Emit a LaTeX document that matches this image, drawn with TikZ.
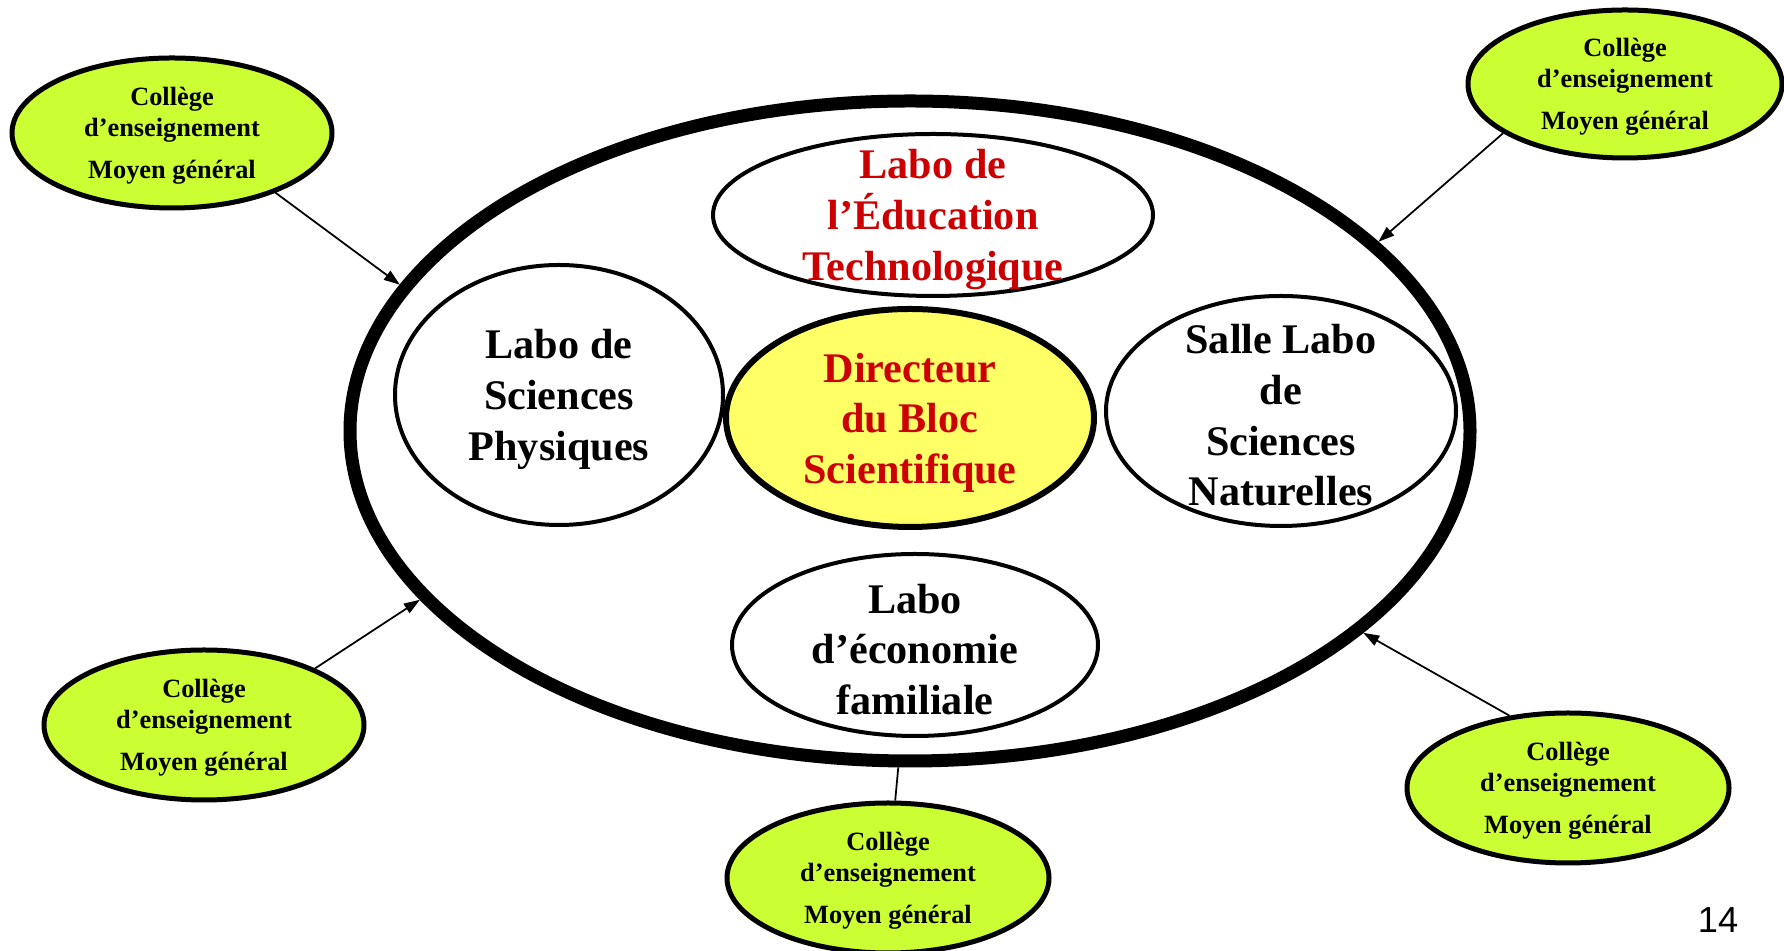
\documentclass[tikz,border=0pt]{standalone}
\usepackage{fontspec}
\setmainfont{Liberation Serif}
\newfontfamily\pagefont{Liberation Sans}
\usetikzlibrary{shapes.geometric,arrows.meta}
\definecolor{labred}{HTML}{CC0000}
\definecolor{dirfill}{HTML}{FFFF66}
\definecolor{colfill}{HTML}{CCFF33}
\tikzset{
  bigtext/.style={font=\bfseries\fontsize{12}{14.4}\selectfont, align=center, yshift=-0.45mm},
  redtext/.style={bigtext, text=labred},
  coltext/.style={font=\bfseries\fontsize{7.5}{8.8}\selectfont, align=center, yshift=-0.3mm},
  labo/.style={ellipse, draw, line width=0.4mm, fill=white, inner sep=0pt},
  college/.style={ellipse, draw, line width=0.5mm, fill=colfill, inner sep=0pt,
    minimum width=3.2cm, minimum height=1.5cm,
    label={[coltext]center:Collège\\d’enseignement\\[3.2pt]Moyen général}},
  fleche/.style={line width=0.5pt, -{Triangle[length=1.6mm,width=1.1mm]}}
}
\begin{document}
\begin{tikzpicture}
  \useasboundingbox (0,0) rectangle (17.84,-9.51);
  % le bloc scientifique
  \node[ellipse, draw, line width=1.3mm, minimum width=11.2cm, minimum height=6.6cm] (bloc) at (9.10,-4.31) {};
  \node[labo, minimum width=4.4cm, minimum height=1.62cm,
    label={[redtext]center:Labo de\\l’Éducation\\Technologique}] (edutech) at (9.33,-2.15) {};
  \node[labo, minimum width=3.28cm, minimum height=2.6cm,
    label={[bigtext]center:Labo de\\Sciences\\Physiques}] (physique) at (5.59,-3.95) {};
  \node[labo, line width=0.6mm, fill=dirfill, minimum width=3.68cm, minimum height=2.18cm,
    label={[redtext]center:Directeur\\du Bloc\\Scientifique}] (directeur) at (9.10,-4.18) {};
  \node[labo, minimum width=3.5cm, minimum height=2.3cm,
    label={[bigtext]center:Salle Labo\\de\\Sciences\\Naturelles}] (naturelle) at (12.81,-4.11) {};
  \node[labo, minimum width=3.66cm, minimum height=1.82cm,
    label={[bigtext]center:Labo\\d’économie\\familiale}] (economie) at (9.15,-6.45) {};
  % les colleges
  \node[college] (colA) at (1.72,-1.33) {};
  \node[college, minimum width=3.14cm, minimum height=1.48cm] (colB) at (16.25,-0.84) {};
  \node[college] (colC) at (2.04,-7.25) {};
  \node[college, minimum width=3.22cm] (colD) at (8.88,-8.78) {};
  \node[college, minimum width=3.22cm] (colE) at (15.68,-7.88) {};
  \node[font=\pagefont\fontsize{10.3}{12}\selectfont] (page) at (17.18,-9.20) {14};
  \begin{scope}[fleche]
    \draw (colA.330) -- (bloc.164);
    \draw (colB.202) -- (bloc.22);
    \draw (colC.27) -- (bloc.199);
    \draw (colE.129) -- (bloc.336);
  \end{scope}
  \draw[line width=0.5pt] (colD) -- (bloc.268);
\end{tikzpicture}
\end{document}
